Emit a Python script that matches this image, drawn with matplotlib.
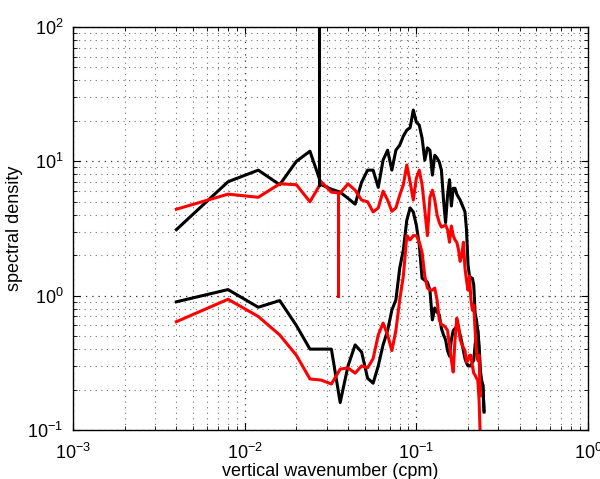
import numpy as np
import matplotlib
matplotlib.use("Agg")
import matplotlib.pyplot as plt

# Spectra: wavenumber grid with 0.004 cpm spacing
k_black = 0.004 * np.arange(1, 63)
k_red = 0.004 * np.arange(1, 60)

black_upper = [3.1, 7.05, 8.6, 6.7, 10.0, 11.9, 6.7, 6.2, 5.9, 5.3,
               4.8, 7.0, 8.6, 8.6, 6.4, 10.2, 12.1, 8.6, 12.1, 13.2,
               15.4, 17.1, 17.8, 24.1, 19.6, 18.6, 14.9, 10.2, 12.6, 12.1,
               7.9, 11.1, 10.6, 9.9, 8.6, 5.15, 3.5, 5.6, 7.3, 4.65,
               6.3, 6.3, 5.7, 5.4, 5.15, 4.8, 4.5, 4.2, 3.1, 1.7,
               1.4, 1.35, 1.35, 1.2, 0.74, 0.66, 0.55, 0.36, 0.235, 0.227,
               0.216, 0.136]

black_lower = [0.90, 1.11, 0.82, 0.92, 0.60, 0.40, 0.40, 0.40, 0.16, 0.30,
               0.43, 0.38, 0.243, 0.223, 0.30, 0.43, 0.55, 0.78, 0.93, 1.6,
               2.2, 3.65, 4.5, 4.2, 3.35, 2.4, 1.35, 1.3, 1.26, 1.1,
               0.66, 0.81, 0.755, 0.72, 0.57, 0.51, 0.47, 0.39, 0.355, 0.47,
               0.55, 0.57, 0.59, 0.57, 0.51, 0.45, 0.39, 0.34, 0.315, 0.30,
               0.30, 0.30, 0.32, 0.33, 0.43, 0.51, 0.55, 0.43, 0.28, 0.235,
               0.216, 0.14]

red_upper = [4.4, 5.7, 5.4, 6.8, 6.7, 5.0, 7.0, 5.9, 5.8, 6.8,
             6.1, 5.15, 5.0, 4.2, 4.5, 6.0, 5.15, 4.25, 4.5, 5.6,
             6.7, 9.4, 7.0, 5.15, 7.5, 8.6, 6.7, 4.35, 2.8, 5.4,
             6.1, 5.15, 4.0, 3.5, 3.24, 3.3, 3.35, 3.1, 2.5, 3.3,
             2.8, 2.6, 2.5, 2.2, 1.8, 2.0, 2.5, 1.6, 1.3, 1.1,
             1.4, 0.93, 0.78, 0.85, 0.55, 0.39, 0.33, 0.36, 0.18]

red_lower = [0.64, 0.94, 0.70, 0.51, 0.36, 0.24, 0.235, 0.22, 0.284, 0.29,
             0.265, 0.30, 0.29, 0.34, 0.51, 0.625, 0.51, 0.39, 0.55, 0.93,
             1.4, 2.8, 2.6, 2.8, 2.8, 2.5, 2.1, 1.4, 1.14, 1.1,
             1.1, 1.14, 0.93, 0.66, 0.61, 0.60, 0.58, 0.55, 0.43, 0.33,
             0.27, 0.47, 0.68, 0.60, 0.47, 0.436, 0.41, 0.39, 0.32, 0.33,
             0.36, 0.36, 0.30, 0.265, 0.256, 0.243, 0.235, 0.167, 0.084]

# Vertical marker lines
k_mark_black = [0.0272, 0.0272]
s_mark_black = [6.7, 1000]
k_mark_red = [0.0349, 0.0349]
s_mark_red = [1.0, 5.8]

plt.rcParams['font.family'] = ['Liberation Sans', 'DejaVu Sans']
plt.rcParams['mathtext.fontset'] = 'custom'
plt.rcParams['mathtext.rm'] = 'Liberation Sans'
plt.rcParams['mathtext.it'] = 'Liberation Sans:italic'
plt.rcParams['mathtext.bf'] = 'Liberation Sans:bold'

fig = plt.figure(figsize=(6.0, 4.79), dpi=100)
ax = fig.add_axes([0.1217, 0.1023, 0.8583, 0.8413])

lw = 2.2
ax.loglog(k_black, black_upper, color='black', lw=lw)
ax.loglog(k_black, black_lower, color='black', lw=lw)
ax.loglog(k_red, red_upper, color='red', lw=lw)
ax.loglog(k_red, red_lower, color='red', lw=lw)
ax.loglog(k_mark_black, s_mark_black, color='black', lw=lw)
ax.loglog(k_mark_red, s_mark_red, color='red', lw=lw)

ax.set_xlim(1e-3, 1)
ax.set_ylim(1e-1, 1e2)

dots = (0, (1, 4))
ax.grid(True, which='major', linestyle=dots, color='#303030', lw=0.9)
ax.grid(True, which='minor', linestyle=dots, color='#707070', lw=0.8)
ax.set_axisbelow(True)

ax.tick_params(which='both', direction='in', top=True, right=True, labelsize=13)
ax.tick_params(axis='x', which='major', pad=9)
ax.tick_params(axis='y', which='major', pad=7)
ax.tick_params(which='major', length=5, width=0.8)
ax.tick_params(which='minor', length=3, width=0.6)
for s in ax.spines.values():
    s.set_linewidth(1.0)

ax.set_xlabel('vertical wavenumber (cpm)', fontsize=13, labelpad=0)
ax.set_ylabel('spectral density', fontsize=13, labelpad=3)

fig.savefig('out.png', dpi=100)
